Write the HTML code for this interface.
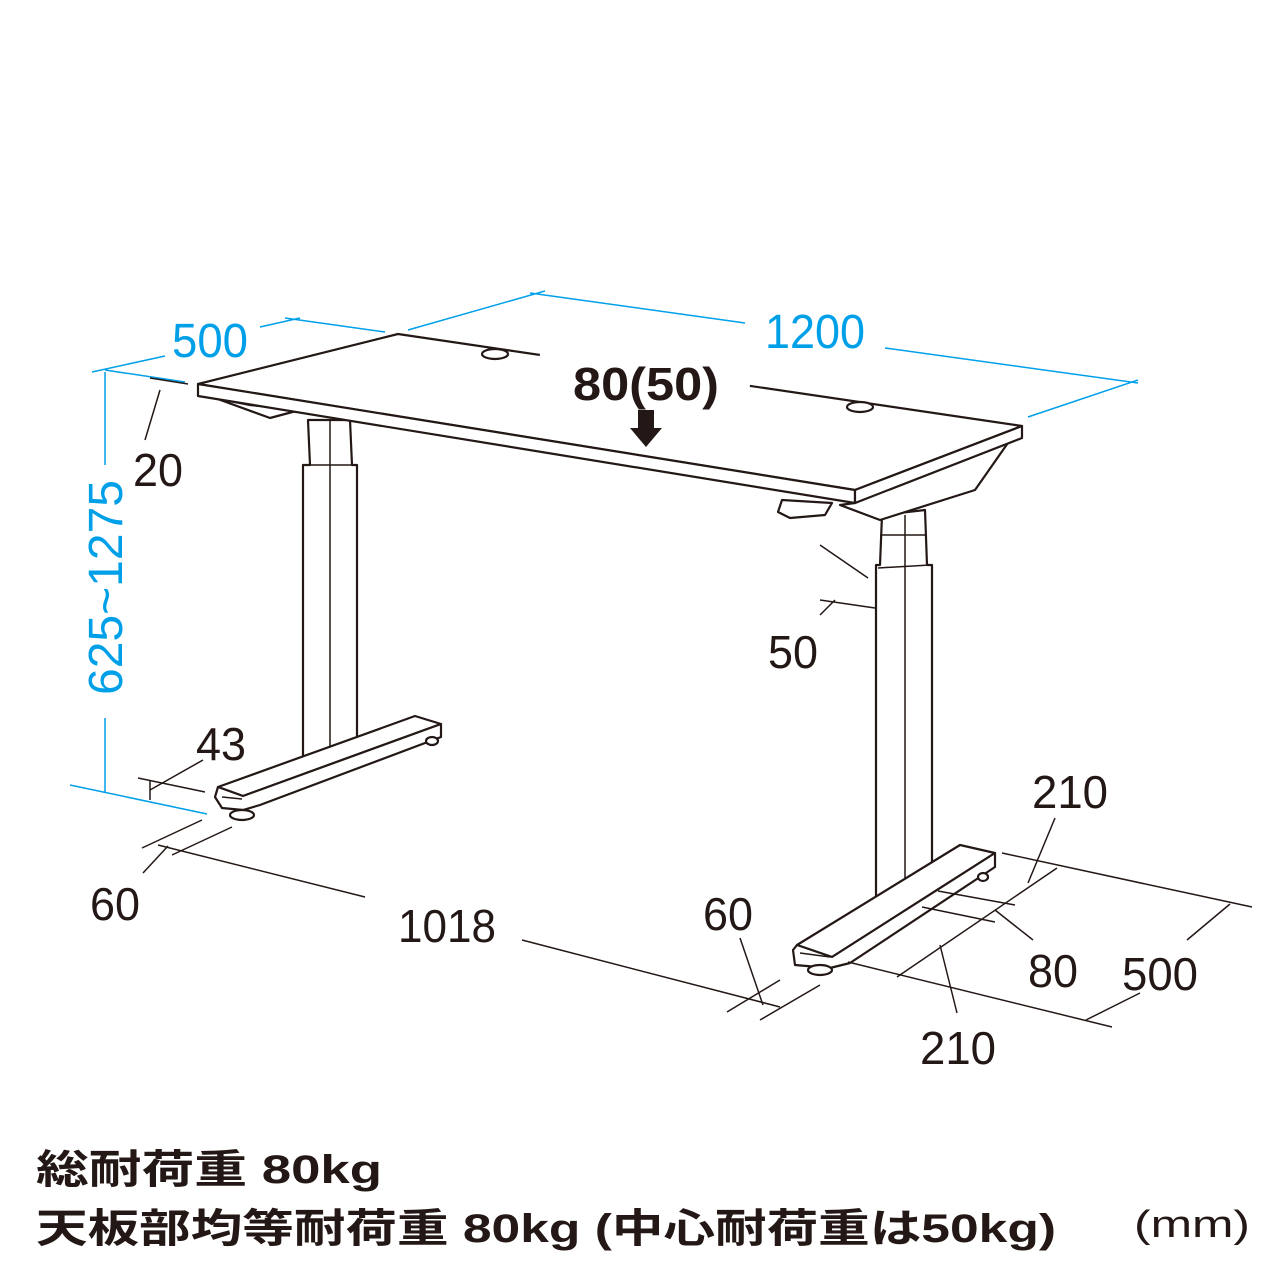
<!DOCTYPE html>
<html><head><meta charset="utf-8"><style>
html,body{margin:0;padding:0;background:#fff;}
svg{display:block}
.k{stroke:#231815;stroke-width:2.2;fill:#fff;stroke-linejoin:round}
.t{stroke:#231815;stroke-width:1.5;fill:none}
.b{stroke:#00a0e9;stroke-width:1.5;fill:none}
text{font-family:"Liberation Sans Narrow","Liberation Sans","Noto Sans CJK JP",sans-serif}
.n{font-size:46px;fill:#231815}
.bl{font-size:48px;fill:#00a0e9}
.j{font-size:40px;font-weight:bold;fill:#231815;font-family:"Liberation Sans","Noto Sans CJK JP",sans-serif}
</style></head><body>
<svg width="1280" height="1280" viewBox="0 0 1280 1280" xmlns="http://www.w3.org/2000/svg">
<g class="b">
<line x1="92" y1="372" x2="165" y2="356"/>
<line x1="260" y1="327" x2="300" y2="318"/>
<line x1="285" y1="318" x2="385" y2="332"/>
<line x1="408" y1="330" x2="545" y2="291"/>
<line x1="530" y1="293" x2="745" y2="323"/>
<line x1="885" y1="348" x2="1138" y2="383"/>
<line x1="1138" y1="380" x2="1028" y2="417"/>
<line x1="105" y1="372" x2="105" y2="465"/>
<line x1="105" y1="718" x2="105" y2="792"/>
<line x1="70" y1="785" x2="207" y2="814"/>
<line x1="105" y1="370" x2="185" y2="382"/>
</g>
<text class="bl" x="172" y="357" textLength="76" lengthAdjust="spacingAndGlyphs">500</text>
<text class="bl" x="765" y="348" textLength="100" lengthAdjust="spacingAndGlyphs">1200</text>
<text class="bl" transform="translate(122,695) rotate(-90)" textLength="215" lengthAdjust="spacingAndGlyphs">625~1275</text>

<!-- left leg -->
<polygon class="k" points="308,420 350,420 352,465 357,465 357,760 303,760 303,465 310,465"/>
<line class="t" x1="330" y1="420" x2="330" y2="760"/>
<line class="t" x1="305" y1="465" x2="355" y2="465"/>
<!-- left foot -->
<polygon class="k" points="218,787 415,716 441,724 243,796"/>
<polygon class="k" points="243,796 441,724 441,737 260,805 243,810 222,808 215,797 218,787"/>
<line class="t" x1="222" y1="797" x2="242" y2="799"/>
<ellipse class="k" cx="242" cy="815" rx="12" ry="5"/>
<ellipse class="k" cx="432" cy="741" rx="6" ry="4"/>
<!-- right leg -->
<polygon class="k" points="882,515 925,510 927,565 932,565 932,900 876,900 876,565 880,565"/>
<line class="t" x1="905" y1="515" x2="905" y2="900"/>
<line class="t" x1="878" y1="568" x2="930" y2="565"/>
<line class="t" x1="880" y1="535" x2="925" y2="535"/>
<!-- right foot -->
<polygon class="k" points="797,945 960,845 995,853 832,957"/>
<polygon class="k" points="832,957 995,853 995,867 850,963 830,968 795,965 793,950 797,945"/>
<line class="t" x1="800" y1="953" x2="830" y2="957"/>
<ellipse class="k" cx="820" cy="970" rx="12" ry="5"/>
<ellipse class="k" cx="983" cy="877" rx="5" ry="4"/>
<!-- under brackets -->
<polygon class="k" points="215,398 270,418 300,410 250,405"/>
<polygon class="k" points="1010,440 975,490 880,520 840,505 855,503"/>
<path class="k" d="M782,500 L778,512 L790,518 L825,515 L832,503 Z"/>
<!-- desktop -->
<polygon class="k" points="198,384 398,334 1022,426 855,490"/>
<polygon class="k" points="198,384 855,490 855,503 198,396"/>
<polygon class="k" points="855,490 1022,426 1022,438 855,503"/>
<line x1="540" y1="354" x2="750" y2="385" stroke="#fff" stroke-width="5"/>
<ellipse class="k" cx="495" cy="354" rx="13" ry="5"/>
<ellipse class="k" cx="860" cy="407" rx="13" ry="5"/>
<text x="573" y="400" font-size="46" font-weight="bold" fill="#231815" textLength="146" lengthAdjust="spacingAndGlyphs">80(50)</text>
<polygon points="638,410 654,410 654,428 662,428 646,447 630,428 638,428" fill="#231815"/>

<g class="t">
<line x1="145" y1="440" x2="160" y2="390"/>
<line x1="150" y1="378" x2="188" y2="384"/>
<line x1="138" y1="778" x2="205" y2="792"/>
<line x1="150" y1="800" x2="150" y2="780"/>
<line x1="150" y1="790" x2="203" y2="760"/>
<line x1="142" y1="848" x2="202" y2="820"/>
<line x1="172" y1="855" x2="232" y2="827"/>
<line x1="143" y1="873" x2="168" y2="846"/>
<line x1="158" y1="845" x2="365" y2="897"/>
<line x1="522" y1="940" x2="780" y2="1007"/>
<line x1="727" y1="1012" x2="780" y2="980"/>
<line x1="760" y1="1020" x2="820" y2="985"/>
<line x1="740" y1="938" x2="763" y2="1005"/>
<line x1="820" y1="545" x2="868" y2="578"/>
<line x1="820" y1="600" x2="875" y2="608"/>
<line x1="835" y1="600" x2="820" y2="615"/>
<line x1="1002" y1="853" x2="1252" y2="907"/>
<line x1="848" y1="962" x2="1112" y2="1027"/>
<line x1="1086" y1="1020" x2="1140" y2="993"/>
<line x1="1187" y1="940" x2="1230" y2="904"/>
<line x1="897" y1="977" x2="1057" y2="868"/>
<line x1="1028" y1="883" x2="1055" y2="818"/>
<line x1="940" y1="945" x2="957" y2="1013"/>
<line x1="938" y1="891" x2="1015" y2="905"/>
<line x1="922" y1="907" x2="995" y2="922"/>
<line x1="995" y1="910" x2="1033" y2="940"/>
</g>
<g class="n">
<text x="133" y="486" textLength="50" lengthAdjust="spacingAndGlyphs">20</text>
<text x="196" y="760" textLength="50" lengthAdjust="spacingAndGlyphs">43</text>
<text x="90" y="920" textLength="50" lengthAdjust="spacingAndGlyphs">60</text>
<text x="398" y="942" textLength="98" lengthAdjust="spacingAndGlyphs">1018</text>
<text x="703" y="930" textLength="50" lengthAdjust="spacingAndGlyphs">60</text>
<text x="768" y="668" textLength="50" lengthAdjust="spacingAndGlyphs">50</text>
<text x="1032" y="808" textLength="76" lengthAdjust="spacingAndGlyphs">210</text>
<text x="1028" y="987" textLength="50" lengthAdjust="spacingAndGlyphs">80</text>
<text x="1122" y="990" textLength="76" lengthAdjust="spacingAndGlyphs">500</text>
<text x="920" y="1064" textLength="76" lengthAdjust="spacingAndGlyphs">210</text>
</g>
<text class="j" x="36" y="1183" textLength="346" lengthAdjust="spacingAndGlyphs">総耐荷重 80kg</text>
<text class="j" x="36" y="1242" textLength="1020" lengthAdjust="spacingAndGlyphs">天板部均等耐荷重 80kg (中心耐荷重は50kg)</text>
<text x="1134" y="1237" font-size="38" fill="#231815" textLength="116" lengthAdjust="spacingAndGlyphs">(mm)</text>
</svg>
</body></html>
